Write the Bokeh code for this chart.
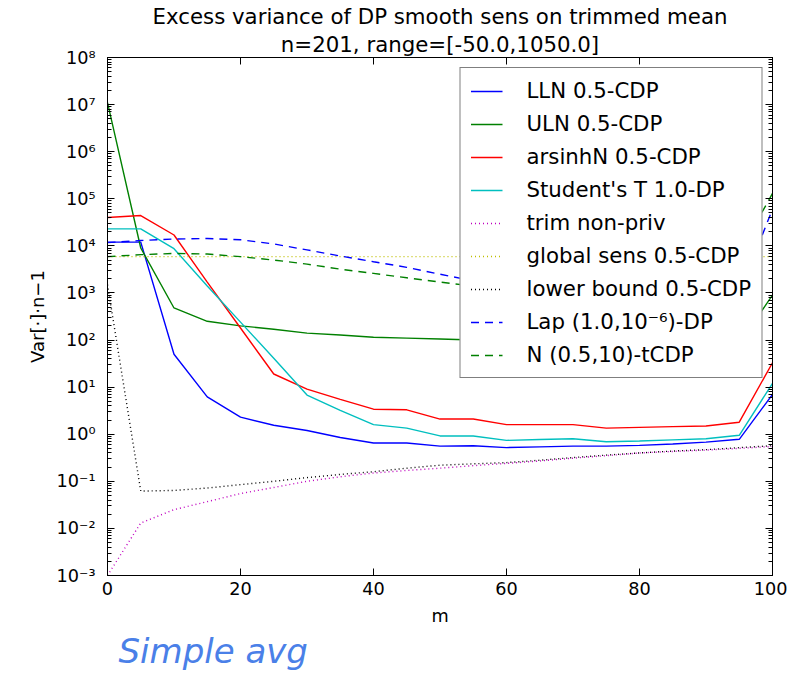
from bokeh.plotting import figure
from bokeh.models import (Range1d, LogAxis, LinearAxis, FixedTicker, CustomJSTickFormatter,
                          Title, Legend, LegendItem)
from bokeh.embed import file_html
from bokeh.resources import INLINE

# ---------------- data ----------------
m_vals = [0, 5, 10, 15, 20, 25, 30, 35, 40, 45, 50, 55, 60, 65, 70, 75, 80, 85, 90, 95, 100]

lln = [1.2e4, 1.2e4, 50, 6.2, 2.3, 1.55, 1.2, 0.85, 0.65, 0.65, 0.56, 0.57, 0.52, 0.54, 0.56,
       0.56, 0.58, 0.62, 0.68, 0.78, 7.0]
uln = [1.1e7, 9e3, 480, 250, 200, 170, 140, 128, 115, 110, 105, 100, 97, 94, 92, 90, 88, 86,
       85, 84, 900]
arsinh = [4.0e4, 4.4e4, 1.7e4, 1.7e3, 180, 19, 9.1, 5.5, 3.4, 3.3, 2.1, 2.1, 1.6, 1.6, 1.6,
          1.35, 1.4, 1.45, 1.5, 1.8, 33]
student = [2.3e4, 2.3e4, 8.7e3, 1.4e3, 240, 41, 6.8, 3.2, 1.6, 1.35, 0.92, 0.92, 0.74, 0.77,
           0.8, 0.69, 0.72, 0.76, 0.8, 0.95, 12]
trim = [1e-3, 0.013, 0.025, 0.037, 0.055, 0.074, 0.1, 0.125, 0.15, 0.17, 0.19, 0.215, 0.24,
        0.27, 0.31, 0.35, 0.40, 0.43, 0.46, 0.5, 0.55]
global_sens = [5.9e3] * 21
lower = [1.5e3, 0.062, 0.064, 0.072, 0.085, 0.1, 0.12, 0.14, 0.16, 0.19, 0.22, 0.235, 0.25,
         0.28, 0.32, 0.36, 0.40, 0.44, 0.47, 0.52, 0.57]
lap = [1.17e4, 1.3e4, 1.4e4, 1.43e4, 1.35e4, 1.1e4, 8.2e3, 6.1e3, 4.6e3, 3.5e3, 2.5e3, 1.8e3,
       1.5e3, 1.2e3, 1.0e3, 850, 750, 700, 650, 1.0e3, 6e4]
ntcdp = [5.9e3, 6.5e3, 6.9e3, 6.7e3, 5.9e3, 5.0e3, 4.1e3, 3.2e3, 2.6e3, 2.1e3, 1.7e3, 1.4e3,
         1.2e3, 1.1e3, 1.1e3, 1.2e3, 1.5e3, 2.2e3, 3.5e3, 7e3, 1.3e5]

labels = ["LLN 0.5-CDP", "ULN 0.5-CDP", "arsinhN 0.5-CDP", "Student's T 1.0-DP",
          "trim non-priv", "global sens 0.5-CDP", "lower bound 0.5-CDP",
          "Lap (1.0,10\u207b\u2076)-DP", "N (0.5,10)-tCDP"]
title_line1 = "Excess variance of DP smooth sens on trimmed mean"
title_line2 = "n=201, range=[-50.0,1050.0]"
note_text = "Simple avg"
x_ticks = [0, 20, 40, 60, 80, 100]
y_ticks = [10.0 ** k for k in range(-3, 9)]

FONT = "DejaVu Sans"
FS_TICK = "17.7px"
FS_BIG = "21.3px"

p = figure(frame_width=665, frame_height=518, x_range=Range1d(0, 100),
           y_range=Range1d(1e-3, 1e8), y_axis_type="log", output_backend="svg",
           toolbar_location=None, title=None,
           min_border_left=107, min_border_right=15, min_border_top=57, min_border_bottom=100)
p.background_fill_color = "white"
p.border_fill_color = "white"
p.outline_line_color = "black"
p.outline_line_width = 1
p.xgrid.visible = False
p.ygrid.visible = False

minor_y = [j * 10.0 ** k for k in range(-3, 8) for j in range(2, 10)]
yticker = FixedTicker(ticks=y_ticks, minor_ticks=minor_y)
xticker = FixedTicker(ticks=x_ticks, minor_ticks=[])

sup_fmt = CustomJSTickFormatter(code="""
const e = Math.round(Math.log10(tick));
const sup = {'0':'\u2070','1':'\u00b9','2':'\u00b2','3':'\u00b3','4':'\u2074','5':'\u2075',
             '6':'\u2076','7':'\u2077','8':'\u2078','9':'\u2079','-':'\u207b'};
return '10' + String(e).split('').map(c => sup[c]).join('');
""")
empty_fmt = CustomJSTickFormatter(code="return '';")


def style_axis(ax):
    ax.major_tick_in = 7
    ax.major_tick_out = 0
    ax.minor_tick_in = 4
    ax.minor_tick_out = 0
    ax.axis_line_color = "black"
    ax.major_tick_line_color = "black"
    ax.minor_tick_line_color = "black"
    ax.major_label_text_font = FONT
    ax.major_label_text_font_size = FS_TICK
    ax.major_label_text_color = "black"
    ax.axis_label_text_font = FONT
    ax.axis_label_text_font_style = "normal"
    ax.axis_label_text_color = "black"


yax = p.yaxis[0]
yax.ticker = yticker
yax.formatter = sup_fmt
style_axis(yax)
yax.major_label_standoff = 12
yax.axis_label = "Var[\u00b7]\u00b7n\u22121"
yax.axis_label_text_font_size = "18px"
yax.axis_label_standoff = 6

xax = p.xaxis[0]
xax.ticker = xticker
style_axis(xax)
xax.major_label_standoff = 6
xax.axis_label = "m"
xax.axis_label_text_font_size = FS_TICK
xax.axis_label_standoff = 8

rax = LogAxis(ticker=yticker, formatter=empty_fmt)
style_axis(rax)
rax.major_label_text_font_size = "0px"
rax.major_label_standoff = 0
p.add_layout(rax, "right")

tax = LinearAxis(ticker=xticker, formatter=empty_fmt)
style_axis(tax)
tax.major_label_text_font_size = "0px"
tax.major_label_standoff = 0
p.add_layout(tax, "above")

t2 = Title(text=title_line2, align="center", text_font=FONT, text_font_size=FS_BIG,
           text_font_style="normal", text_color="black", standoff=2)
p.add_layout(t2, "above")
t1 = Title(text=title_line1, align="center", text_font=FONT, text_font_size=FS_BIG,
           text_font_style="normal", text_color="black", standoff=0)
p.add_layout(t1, "above")

note = Title(text=note_text, align="left", offset=11, text_font=FONT, text_font_size="34px",
             text_font_style="italic", text_color="#4a80e8", standoff=0)
p.add_layout(note, "below")

# ---------------- lines ----------------
LW = 1.4
series = [
    (lln, "#0000ff", "solid"),
    (uln, "#008000", "solid"),
    (arsinh, "#ff0000", "solid"),
    (student, "#00bfbf", "solid"),
    (trim, "#bf00bf", "1 3"),
    (global_sens, "#bfbf00", "1 3"),
    (lower, "#000000", "1 3"),
    (lap, "#0000ff", "8 6"),
    (ntcdp, "#008000", "8 6"),
]
renderers = []
for vals, col, dash in series:
    r = p.line(m_vals, vals, line_color=col, line_width=LW, line_dash=dash)
    renderers.append(r)

legend = Legend(items=[LegendItem(label=lab, renderers=[r]) for lab, r in zip(labels, renderers)],
                location="top_right")
legend.border_line_color = "black"
legend.border_line_width = 1
legend.background_fill_color = "white"
legend.background_fill_alpha = 1.0
legend.label_text_font = FONT
legend.label_text_font_size = FS_BIG
legend.label_text_color = "black"
legend.glyph_width = 32
legend.glyph_height = 24
legend.label_height = 24
legend.spacing = 8
legend.padding = 10
legend.margin = 10
legend.label_standoff = 24
p.add_layout(legend)

open("out.html", "w").write(file_html(p, INLINE))
